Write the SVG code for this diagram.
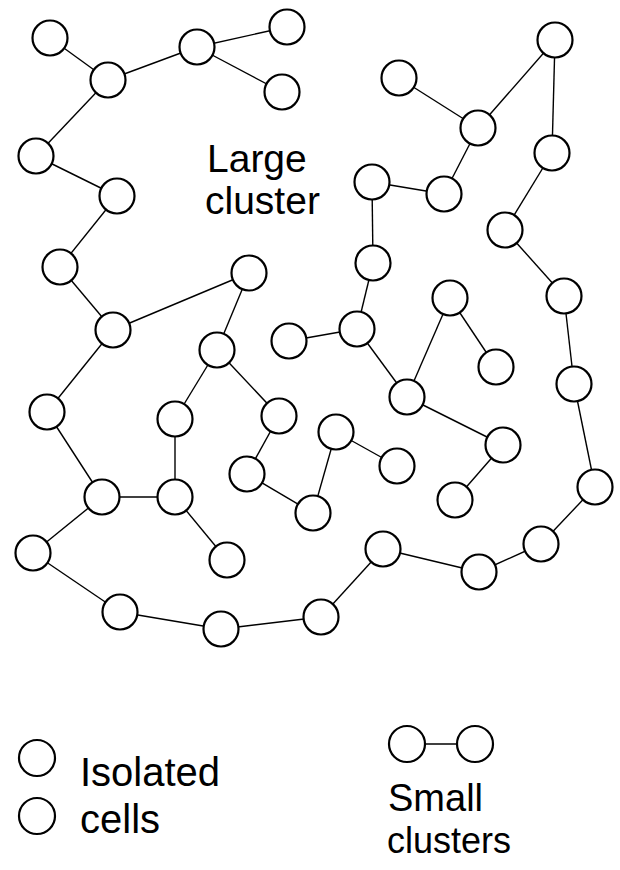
<svg xmlns="http://www.w3.org/2000/svg" width="620" height="870" viewBox="0 0 620 870">
<style>
.n{fill:#fff;stroke:#000;stroke-width:2.2}
.e{stroke:#000;stroke-width:1.4;fill:none}
.t{font-family:"Liberation Sans",Arial,sans-serif;fill:#000}
</style>
<rect width="620" height="870" fill="#fff"/>
<g id="connectors" class="e">
<line x1="50" y1="38" x2="108" y2="80"/>
<line x1="108" y1="80" x2="197" y2="47"/>
<line x1="197" y1="47" x2="287" y2="27"/>
<line x1="197" y1="47" x2="282" y2="92"/>
<line x1="108" y1="80" x2="36" y2="156"/>
<line x1="36" y1="156" x2="117" y2="196"/>
<line x1="117" y1="196" x2="60" y2="267"/>
<line x1="60" y1="267" x2="113" y2="330"/>
<line x1="113" y1="330" x2="249" y2="273"/>
<line x1="249" y1="273" x2="217" y2="350"/>
<line x1="217" y1="350" x2="175" y2="419"/>
<line x1="217" y1="350" x2="279" y2="416"/>
<line x1="113" y1="330" x2="47" y2="412"/>
<line x1="47" y1="412" x2="102" y2="497"/>
<line x1="102" y1="497" x2="175" y2="497"/>
<line x1="175" y1="419" x2="175" y2="497"/>
<line x1="175" y1="497" x2="227" y2="560"/>
<line x1="102" y1="497" x2="33" y2="553"/>
<line x1="33" y1="553" x2="120" y2="612"/>
<line x1="120" y1="612" x2="221" y2="629"/>
<line x1="221" y1="629" x2="321" y2="617"/>
<line x1="321" y1="617" x2="383" y2="549"/>
<line x1="383" y1="549" x2="479" y2="572"/>
<line x1="479" y1="572" x2="541" y2="544"/>
<line x1="541" y1="544" x2="595" y2="487"/>
<line x1="595" y1="487" x2="574" y2="384"/>
<line x1="574" y1="384" x2="564" y2="296"/>
<line x1="564" y1="296" x2="505" y2="230"/>
<line x1="505" y1="230" x2="552" y2="153"/>
<line x1="552" y1="153" x2="555" y2="40"/>
<line x1="555" y1="40" x2="478" y2="128"/>
<line x1="478" y1="128" x2="399" y2="78"/>
<line x1="478" y1="128" x2="444" y2="194"/>
<line x1="444" y1="194" x2="372" y2="182"/>
<line x1="372" y1="182" x2="373" y2="263"/>
<line x1="373" y1="263" x2="357" y2="329"/>
<line x1="357" y1="329" x2="289" y2="341"/>
<line x1="357" y1="329" x2="407" y2="397"/>
<line x1="407" y1="397" x2="450" y2="298"/>
<line x1="450" y1="298" x2="496" y2="367"/>
<line x1="407" y1="397" x2="503" y2="445"/>
<line x1="503" y1="445" x2="455" y2="500"/>
<line x1="279" y1="416" x2="247" y2="474"/>
<line x1="247" y1="474" x2="313" y2="513"/>
<line x1="313" y1="513" x2="336" y2="432"/>
<line x1="336" y1="432" x2="397" y2="466"/>
<line x1="407" y1="744" x2="475" y2="744"/>
</g>
<g id="nodes" class="n">
<circle id="n1" cx="50" cy="38" r="17.5"/>
<circle id="n2" cx="108" cy="80" r="17.5"/>
<circle id="n3" cx="197" cy="47" r="17.5"/>
<circle id="n4" cx="287" cy="27" r="17.5"/>
<circle id="n5" cx="282" cy="92" r="17.5"/>
<circle id="n6" cx="36" cy="156" r="17.5"/>
<circle id="n7" cx="117" cy="196" r="17.5"/>
<circle id="n8" cx="399" cy="78" r="17.5"/>
<circle id="n9" cx="555" cy="40" r="17.5"/>
<circle id="n10" cx="478" cy="128" r="17.5"/>
<circle id="n11" cx="552" cy="153" r="17.5"/>
<circle id="n12" cx="372" cy="182" r="17.5"/>
<circle id="n13" cx="444" cy="194" r="17.5"/>
<circle id="n14" cx="505" cy="230" r="17.5"/>
<circle id="n15" cx="60" cy="267" r="17.5"/>
<circle id="n16" cx="113" cy="330" r="17.5"/>
<circle id="n17" cx="249" cy="273" r="17.5"/>
<circle id="n18" cx="217" cy="350" r="17.5"/>
<circle id="n19" cx="289" cy="341" r="17.5"/>
<circle id="n20" cx="47" cy="412" r="17.5"/>
<circle id="n21" cx="175" cy="419" r="17.5"/>
<circle id="n22" cx="279" cy="416" r="17.5"/>
<circle id="n23" cx="373" cy="263" r="17.5"/>
<circle id="n24" cx="357" cy="329" r="17.5"/>
<circle id="n25" cx="450" cy="298" r="17.5"/>
<circle id="n26" cx="564" cy="296" r="17.5"/>
<circle id="n27" cx="496" cy="367" r="17.5"/>
<circle id="n28" cx="407" cy="397" r="17.5"/>
<circle id="n29" cx="574" cy="384" r="17.5"/>
<circle id="n30" cx="336" cy="432" r="17.5"/>
<circle id="n31" cx="503" cy="445" r="17.5"/>
<circle id="n32" cx="102" cy="497" r="17.5"/>
<circle id="n33" cx="175" cy="497" r="17.5"/>
<circle id="n34" cx="247" cy="474" r="17.5"/>
<circle id="n35" cx="33" cy="553" r="17.5"/>
<circle id="n36" cx="227" cy="560" r="17.5"/>
<circle id="n37" cx="120" cy="612" r="17.5"/>
<circle id="n38" cx="221" cy="629" r="17.5"/>
<circle id="n39" cx="321" cy="617" r="17.5"/>
<circle id="n40" cx="397" cy="466" r="17.5"/>
<circle id="n41" cx="313" cy="513" r="17.5"/>
<circle id="n42" cx="455" cy="500" r="17.5"/>
<circle id="n43" cx="595" cy="487" r="17.5"/>
<circle id="n44" cx="383" cy="549" r="17.5"/>
<circle id="n45" cx="541" cy="544" r="17.5"/>
<circle id="n46" cx="479" cy="572" r="17.5"/>
</g>
<g id="label-large" class="t">
<text x="207" y="172" font-size="39">Large</text>
<text x="205" y="214" font-size="39">cluster</text>
</g>
<g id="legend-isolated">
<circle class="n" cx="37" cy="758" r="18"/>
<circle class="n" cx="37" cy="816" r="18"/>
<text class="t" x="80" y="786" font-size="40">Isolated</text>
<text class="t" x="80" y="833" font-size="40">cells</text>
</g>
<g id="legend-small">
<circle class="n" cx="407" cy="744" r="18"/>
<circle class="n" cx="475" cy="744" r="18"/>
<text class="t" x="388" y="811" font-size="38">Small</text>
<text class="t" x="387" y="853" font-size="36">clusters</text>
</g>
</svg>
